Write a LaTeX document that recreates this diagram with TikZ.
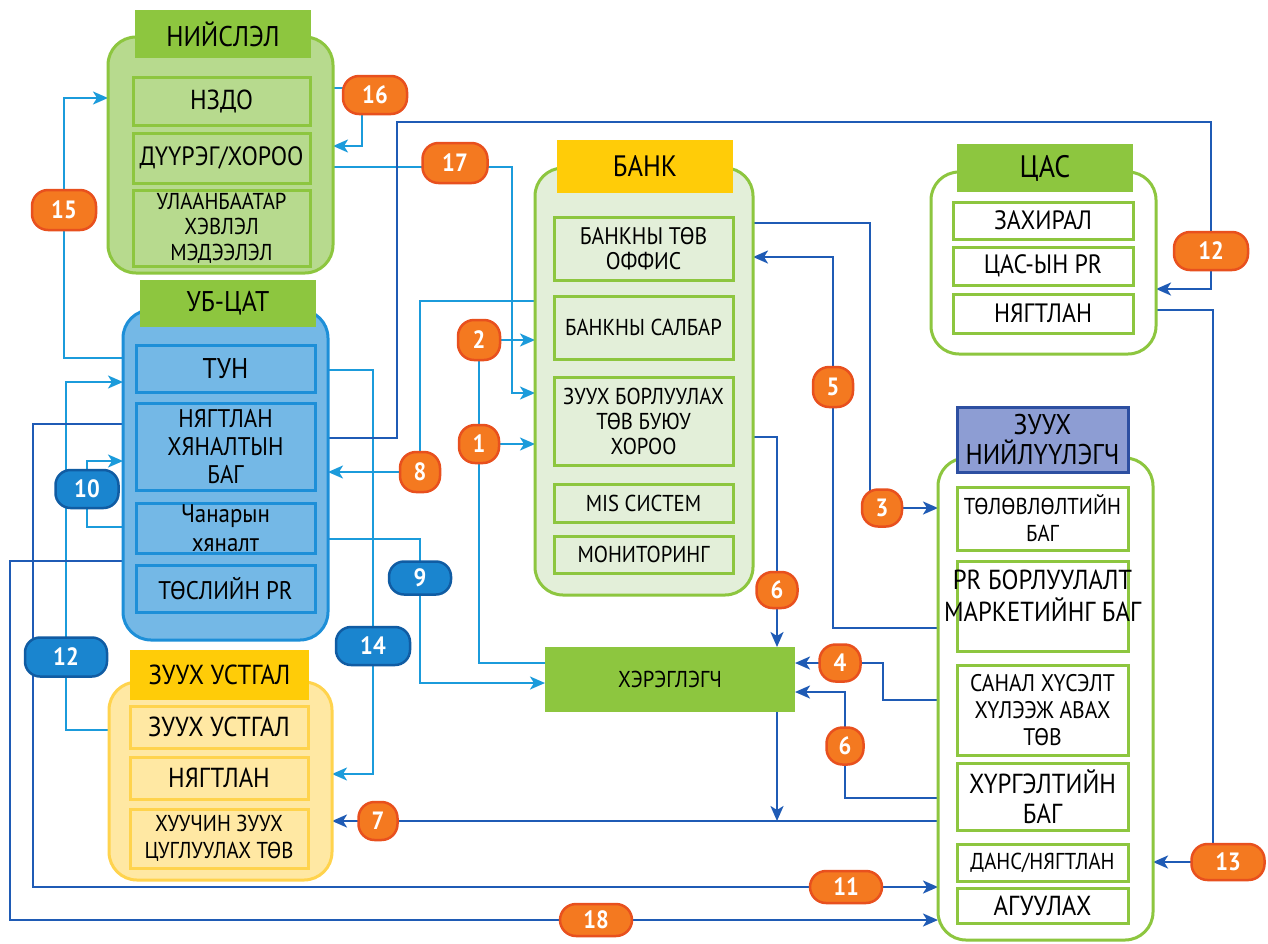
\documentclass[tikz,border=0pt]{standalone}
\usepackage{fontspec}
\setmainfont{PT Sans}[FakeStretch=0.9]
\usetikzlibrary{arrows.meta}
\definecolor{gr}{HTML}{8DC63F}
\definecolor{nsf}{HTML}{B7DA8E}
\definecolor{bkf}{HTML}{E3EFD9}
\definecolor{ylh}{HTML}{FFCC08}
\definecolor{ylf}{HTML}{FFE8A3}
\definecolor{ylb}{HTML}{FFD34D}
\definecolor{ubf}{HTML}{74B8E6}
\definecolor{ubl}{HTML}{1D8FD8}
\definecolor{nhf}{HTML}{8D9DD3}
\definecolor{nhb}{HTML}{2D4FA1}
\definecolor{orng}{HTML}{F47920}
\definecolor{orngb}{HTML}{E8501E}
\definecolor{bbad}{HTML}{1A85CF}
\definecolor{bbadb}{HTML}{105CA3}
\definecolor{lcy}{HTML}{1B9BDB}
\definecolor{ldk}{HTML}{1F5BB5}
\newcommand\fz[2]{\fontsize{#1}{#2}\selectfont}
\pgfdeclarelayer{bg}
\pgfdeclarelayer{conn}
\pgfsetlayers{bg,conn,main}
\begin{document}
\begin{tikzpicture}[x=1pt,y=-1pt,
 every node/.style={inner sep=0pt, outer sep=0pt, align=center, text=black},
 grp/.style={rounded corners=28pt, line width=3pt},
 ibox/.style={line width=3pt},
 ob/.style={fill=orng, draw=orngb, line width=2.5pt, rounded corners=16pt, text=white, font=\fz{25}{25}\bfseries},
 bb/.style={fill=bbad, draw=bbadb, line width=2.5pt, rounded corners=15pt, text=white, font=\fz{25}{25}\bfseries},
 lc/.style={draw=lcy, line width=2pt},
 dc/.style={draw=ldk, line width=2.4pt},
 arr/.style={-{Stealth[length=15pt,width=13pt,inset=4pt]}},
]
\begin{pgfonlayer}{bg}
\fill[white] (0,0) rectangle (1268,943);
\end{pgfonlayer}
\useasboundingbox (0,0) rectangle (1268,943);

% ---------- НИЙСЛЭЛ
\node[grp, fill=nsf, draw=gr, minimum width=225, minimum height=236] (nsout) at (220.5,155) {};
\node[fill=gr, minimum width=176, minimum height=48, font=\fz{28.5}{30}] (nshdr) at (223,34) {НИЙСЛЭЛ};
\node[ibox, fill=nsf, draw=gr, minimum width=177, minimum height=48, font=\fz{27.5}{29}] (nzdo) at (221.5,101) {НЗДО};
\node[ibox, fill=nsf, draw=gr, minimum width=177, minimum height=50, font=\fz{26.5}{28}] (duureg) at (221.5,158) {ДҮҮРЭГ/ХОРОО};
\node[ibox, fill=nsf, draw=gr, minimum width=177, minimum height=76, font=\fz{23}{25.5}] (ubhm) at (221.5,228) {УЛААНБААТАР\\ХЭВЛЭЛ\\МЭДЭЭЛЭЛ};

% ---------- УБ-ЦАТ
\node[grp, fill=ubf, draw=ubl, minimum width=205, minimum height=330] (ubout) at (225.5,475) {};
\node[fill=gr, minimum width=176, minimum height=47, font=\fz{28.5}{30}] (ubhdr) at (228,303.5) {УБ-ЦАТ};
\node[ibox, fill=ubf, draw=ubl, minimum width=179, minimum height=47, font=\fz{28.5}{30}] (tun) at (225.5,368.5) {ТУН};
\node[ibox, fill=ubf, draw=ubl, minimum width=179, minimum height=87, font=\fz{25.5}{28}] (nhb) at (225.5,446.5) {НЯГТЛАН\\ХЯНАЛТЫН\\БАГ};
\node[ibox, fill=ubf, draw=ubl, minimum width=179, minimum height=50, font=\fz{25.5}{29}] (chan) at (225.5,528) {Чанарын\\хяналт};
\node[ibox, fill=ubf, draw=ubl, minimum width=179, minimum height=47, font=\fz{25.5}{27}] (tosl) at (225.5,588.5) {ТӨСЛИЙН PR};

% ---------- ЗУУХ УСТГАЛ
\node[grp, fill=ylf, draw=ylb, minimum width=223, minimum height=198] (yout) at (220.5,781) {};
\node[fill=ylh, minimum width=179, minimum height=50, font=\fz{27.5}{29}] (yhdr) at (219.5,675) {ЗУУХ УСТГАЛ};
\node[ibox, fill=ylf, draw=ylb, minimum width=178, minimum height=42, font=\fz{27.5}{29}] (yust) at (219,727) {ЗУУХ УСТГАЛ};
\node[ibox, fill=ylf, draw=ylb, minimum width=178, minimum height=42, font=\fz{27.5}{29}] (ynyag) at (219,778) {НЯГТЛАН};
\node[ibox, fill=ylf, draw=ylb, minimum width=178, minimum height=59, font=\fz{23}{27}] (yhuu) at (219,838.5) {ХУУЧИН ЗУУХ\\ЦУГЛУУЛАХ ТӨВ};

% ---------- БАНК
\node[grp, fill=bkf, draw=gr, minimum width=218, minimum height=427] (bankout) at (644,381.5) {};
\node[fill=ylh, minimum width=176, minimum height=53, font=\fz{29.5}{31}] (bankhdr) at (645,166.5) {БАНК};
\node[ibox, fill=bkf, draw=gr, minimum width=179, minimum height=63, font=\fz{24}{25}] (btov) at (643.5,248.5) {БАНКНЫ ТӨВ\\ОФФИС};
\node[ibox, fill=bkf, draw=gr, minimum width=179, minimum height=63, font=\fz{23}{25}] (bsal) at (643.5,327.5) {БАНКНЫ САЛБАР};
\node[ibox, fill=bkf, draw=gr, minimum width=179, minimum height=88, font=\fz{23}{25}] (bzuuh) at (643.5,421) {ЗУУХ БОРЛУУЛАХ\\ТӨВ БУЮУ\\ХОРОО};
\node[ibox, fill=bkf, draw=gr, minimum width=179, minimum height=38, font=\fz{23}{25}] (bmis) at (643.5,503) {MIS СИСТЕМ};
\node[ibox, fill=bkf, draw=gr, minimum width=179, minimum height=37, font=\fz{23}{25}] (bmon) at (643.5,554.5) {МОНИТОРИНГ};

% ---------- ЦАС
\node[grp, fill=white, draw=gr, minimum width=225, minimum height=182] (casout) at (1043.5,263) {};
\node[fill=gr, minimum width=176, minimum height=48, font=\fz{31}{33}] (cashdr) at (1045,168) {ЦАС};
\node[ibox, fill=white, draw=gr, minimum width=180, minimum height=37, font=\fz{26.5}{28}] (czah) at (1043,220.5) {ЗАХИРАЛ};
\node[ibox, fill=white, draw=gr, minimum width=180, minimum height=38, font=\fz{26.5}{28}] (cpr) at (1043,266) {ЦАС-ЫН PR};
\node[ibox, fill=white, draw=gr, minimum width=180, minimum height=39, font=\fz{26.5}{28}] (cnyag) at (1043,313.5) {НЯГТЛАН};

% ---------- ЗУУХ НИЙЛҮҮЛЭГЧ
\node[grp, fill=white, draw=gr, minimum width=215, minimum height=482] (nijout) at (1045.5,699) {};
\node[fill=nhf, draw=nhb, line width=3pt, minimum width=171, minimum height=65, font=\fz{28.5}{30}] (nijhdr) at (1042.5,439.5) {ЗУУХ\\НИЙЛҮҮЛЭГЧ};
\node[ibox, fill=white, draw=gr, minimum width=171, minimum height=63, font=\fz{23}{27}] (ntol) at (1042.5,518.5) {ТӨЛӨВЛӨЛТИЙН\\БАГ};
\node[ibox, fill=white, draw=gr, minimum width=171, minimum height=90] (npr) at (1042.5,606) {};
\node[font=\fz{27.5}{32}] (nprt) at (1042.5,596) {\makebox[0pt]{PR БОРЛУУЛАЛТ}\\\makebox[0pt]{МАРКЕТИЙНГ БАГ}};
\node[ibox, fill=white, draw=gr, minimum width=171, minimum height=90, font=\fz{24}{27}] (nsan) at (1042.5,710) {САНАЛ ХҮСЭЛТ\\ХҮЛЭЭЖ АВАХ\\ТӨВ};
\node[ibox, fill=white, draw=gr, minimum width=171, minimum height=67, font=\fz{27.5}{30}] (nhur) at (1042.5,796.5) {ХҮРГЭЛТИЙН\\БАГ};
\node[ibox, fill=white, draw=gr, minimum width=171, minimum height=37, font=\fz{23}{25}] (ndans) at (1042.5,862.5) {ДАНС/НЯГТЛАН};
\node[ibox, fill=white, draw=gr, minimum width=171, minimum height=35, font=\fz{27.5}{29}] (nagu) at (1042.5,905.5) {АГУУЛАХ};

% ---------- ХЭРЭГЛЭГЧ
\node[fill=gr, minimum width=250, minimum height=65, font=\fz{23}{25}] (hereg) at (670,679.5) {ХЭРЭГЛЭГЧ};

% ---------- badges
\node[ob, minimum width=64, minimum height=38] (b16) at (375,95) {16};
\node[ob, minimum width=64, minimum height=40] (b15) at (64,210) {15};
\node[ob, minimum width=65, minimum height=40] (b17) at (455,163) {17};
\node[ob, minimum width=42, minimum height=40] (b2) at (479,340) {2};
\node[ob, minimum width=40, minimum height=38] (b1) at (479,444) {1};
\node[ob, minimum width=40, minimum height=40] (b8) at (420,472) {8};
\node[ob, minimum width=74, minimum height=38] (b12r) at (1211,251) {12};
\node[ob, minimum width=40, minimum height=40] (b5) at (833,387) {5};
\node[ob, minimum width=40, minimum height=37] (b3) at (882,508) {3};
\node[ob, minimum width=41, minimum height=36] (b6a) at (777,590) {6};
\node[ob, minimum width=41, minimum height=37] (b4) at (840,663) {4};
\node[ob, minimum width=37, minimum height=37] (b6b) at (845,746) {6};
\node[ob, minimum width=39, minimum height=38] (b7) at (378,821) {7};
\node[ob, minimum width=72, minimum height=32] (b11) at (846,887) {11};
\node[ob, minimum width=72, minimum height=32] (b18) at (596,920) {18};
\node[ob, minimum width=73, minimum height=36] (b13) at (1228,862) {13};
\node[bb, minimum width=63, minimum height=38] (b10) at (87,489) {10};
\node[bb, minimum width=62, minimum height=33] (b9) at (420,578) {9};
\node[bb, minimum width=74, minimum height=38] (b14) at (373,646) {14};
\node[bb, minimum width=82, minimum height=39] (b12b) at (66,657) {12};
\coordinate (j7) at (777,821);

% ---------- connectors (layer under boxes and badges)
\begin{pgfonlayer}{conn}
% light blue
\draw[lc,arr] (ubout.west |- 0,358) -| (b15.center) |- (nsout.west |- 0,98);
\draw[lc,arr] (nsout.east |- 0,88) -| ([xshift=-13pt]b16.center) |- (nsout.east |- 0,146);
\draw[lc,arr] (nsout.east |- 0,167) -| (512,393) -- (bankout.west |- 0,393);
\draw[lc] (hereg.west |- 0,663) -| (b1.center) -- (b2.center);
\draw[lc,arr] (b2.center) -- (bankout.west |- b2);
\draw[lc,arr] (b1.center) -- (bankout.west |- b1);
\draw[lc,arr] (bankout.west |- 0,301) -| (b8.center) -- (ubout.east |- b8);
\draw[lc,arr] (ubout.east |- 0,539) -| (b9.center) |- (hereg.west |- 0,683);
\draw[lc,arr] (ubout.east |- 0,370) -| (b14.center) |- (yout.east |- 0,774);
\draw[lc,arr] (ubout.west |- 0,527) -| (b10.center) |- (ubout.west |- 0,461);
\draw[lc,arr] (yout.west |- 0,730) -| (b12b.center) |- (ubout.west |- 0,382);
% dark blue
\draw[dc,arr] (ubout.west |- 0,424) -| (33,887) -- (nijout.west |- 0,887);
\draw[dc,arr] (ubout.west |- 0,561) -| (10,920) -- (nijout.west |- 0,920);
\draw[dc,arr] (ubout.east |- 0,438) -| (397,122) -| (b12r.center) |- (casout.east |- 0,289);
\draw[dc,arr] (casout.east |- 0,310) -| ([xshift=-15pt]b13.center) -- (nijout.east |- b13);
\draw[dc,arr] (nijout.west |- 0,628) -| (b5.center) |- (bankout.east |- 0,257);
\draw[dc,arr] (bankout.east |- 0,223) -| ([xshift=-12pt]b3.center) -- (nijout.west |- b3);
\draw[dc,arr] (bankout.east |- 0,437) -| (b6a.center) -- (b6a.center |- hereg.north);
\draw[dc,arr] (nijout.west |- 0,700) -| (883,663) -- (hereg.east |- 0,663);
\draw[dc,arr] (nijout.west |- 0,798) -| (b6b.center) |- (hereg.east |- 0,692);
\draw[dc,arr] (nijout.west |- 0,821) -- (yout.east |- 0,821);
\draw[dc,arr] (hereg.south -| j7) -- (j7);
\end{pgfonlayer}
\end{tikzpicture}
\end{document}
